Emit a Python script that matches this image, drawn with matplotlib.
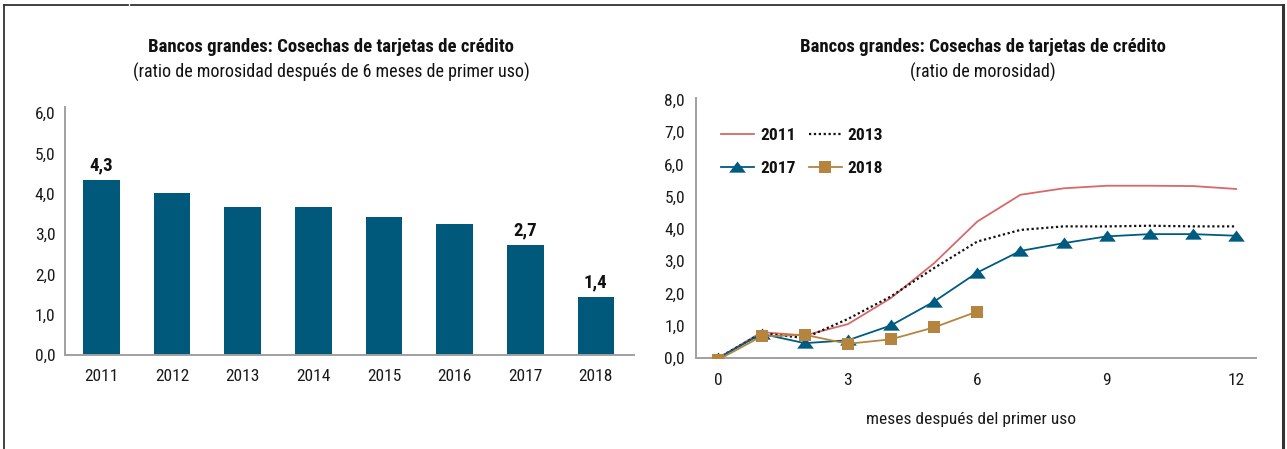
import matplotlib
matplotlib.use("Agg")
import matplotlib.pyplot as plt
from matplotlib.lines import Line2D
from matplotlib.path import Path
from matplotlib.ticker import FuncFormatter
from matplotlib import font_manager as fm

# pick a condensed family if one is installed
_names = sorted({f.name for f in fm.fontManager.ttflist})
_cond = [n for n in _names if ("Narrow" in n or "Condensed" in n)]
_pref = [n for n in _cond if "Liberation" in n] + [n for n in _cond if "Roboto" in n] + _cond
if _pref:
    FAMILY = _pref[0]
    SCALE = 1.0
else:
    FAMILY = "Liberation Sans"
    SCALE = 0.88
plt.rcParams['font.family'] = [FAMILY, 'DejaVu Sans']

# ---- data: left bar chart ----
years = ["2011", "2012", "2013", "2014", "2015", "2016", "2017", "2018"]
ratio6m = [4.34, 4.02, 3.67, 3.67, 3.42, 3.25, 2.74, 1.44]
labeled_years = ["2011", "2017", "2018"]

# ---- data: right line chart ----
months = list(range(13))
v2011 = [0.0, 0.80, 0.70, 1.05, 1.86, 2.94, 4.23, 5.06, 5.26, 5.34, 5.34, 5.33, 5.24]
v2013 = [0.0, 0.77, 0.62, 1.21, 1.91, 2.79, 3.61, 3.97, 4.08, 4.08, 4.10, 4.08, 4.08]
v2017 = [0.0, 0.75, 0.46, 0.55, 1.01, 1.75, 2.65, 3.32, 3.56, 3.77, 3.84, 3.84, 3.79]
months18 = list(range(7))
v2018 = [-0.05, 0.67, 0.72, 0.44, 0.58, 0.95, 1.44]
xticks_r = [0, 3, 6, 9, 12]

BAR = "#00587B"
RED = "#D8686A"
BLUE = "#005B80"
GOLD = "#B5843F"
SPINE = "#A0A0A0"
TXT = "#111111"

TICK_FS = 12.5 * SCALE
TITLE_FS = 13.5 * SCALE
SUB_FS = 13.0 * SCALE
VAL_FS = 13.5 * SCALE
LEG_FS = 12.5 * SCALE

W, H = 1287, 449
fig = plt.figure(figsize=(W / 100, H / 100), dpi=100)

def fx(px):
    return px / W

def fy(py):
    return 1 - py / H

comma = FuncFormatter(lambda v, p: f"{v:.1f}".replace(".", ","))

# frame lines
fig.add_artist(Line2D([fx(4), fx(128)], [fy(5), fy(5)], color="#333333", lw=1.3))
fig.add_artist(Line2D([fx(131), fx(1283)], [fy(5), fy(5)], color="#333333", lw=1.3))
fig.add_artist(Line2D([fx(4), fx(4)], [fy(5), 0], color="#333333", lw=1.3))
fig.add_artist(Line2D([fx(1283), fx(1283)], [fy(5), 0], color="#333333", lw=2.2))

# ---------- left chart ----------
ax1 = fig.add_axes([fx(65), fy(355), fx(634) - fx(65), fy(107) - fy(355)])
x = list(range(len(years)))
ax1.bar(x, ratio6m, width=0.52, color=BAR)
ax1.set_xlim(-0.517, 7.54)
ax1.set_ylim(0, 6.15)
ax1.set_yticks([0, 1, 2, 3, 4, 5, 6])
ax1.yaxis.set_major_formatter(comma)
ax1.set_xticks(x)
ax1.set_xticklabels(years)
for s in ["top", "right"]:
    ax1.spines[s].set_visible(False)
for s in ["left", "bottom"]:
    ax1.spines[s].set_color(SPINE)
    ax1.spines[s].set_linewidth(1.4)
ax1.tick_params(axis="both", length=0, labelsize=TICK_FS, colors="#1a1a1a")
ax1.tick_params(axis="y", pad=7)
ax1.tick_params(axis="x", pad=10)
for xi, yr, v in zip(x, years, ratio6m):
    if yr in labeled_years:
        ax1.annotate(f"{v:.1f}".replace(".", ","), (xi, v), xytext=(0, 4),
                     textcoords="offset points", ha="center", va="bottom",
                     fontsize=VAL_FS, fontweight="bold", color=TXT)

fig.text(fx(331), fy(47), "Bancos grandes: Cosechas de tarjetas de crédito",
         ha="center", va="center", fontsize=TITLE_FS, fontweight="bold", color=TXT)
fig.text(fx(331), fy(72), "(ratio de morosidad después de 6 meses de primer uso)",
         ha="center", va="center", fontsize=SUB_FS, color=TXT)

# ---------- right chart ----------
ax2 = fig.add_axes([fx(696), fy(358), fx(1256) - fx(696), fy(98) - fy(358)])
tri = Path([(-1, -0.62), (1, -0.62), (0, 0.72), (-1, -0.62)],
           [Path.MOVETO, Path.LINETO, Path.LINETO, Path.CLOSEPOLY])
l11, = ax2.plot(months, v2011, color=RED, lw=1.3, label="2011", zorder=3)
l13, = ax2.plot(months, v2013, color="#111111", lw=1.6, ls=(0, (1, 1.2)), label="2013", zorder=4)
l17, = ax2.plot(months, v2017, color=BLUE, lw=1.3, marker=tri, markersize=12,
                markeredgewidth=0, label="2017", zorder=5)
l18, = ax2.plot(months18, v2018, color=GOLD, lw=1.3, marker="s", markersize=8.5,
                markeredgewidth=0, label="2018", zorder=6)
ax2.set_xlim(-0.52, 12.46)
ax2.set_ylim(0, 8.06)
ax2.set_yticks([0, 1, 2, 3, 4, 5, 6, 7, 8])
ax2.yaxis.set_major_formatter(comma)
ax2.set_xticks(xticks_r)
for s in ["top", "right"]:
    ax2.spines[s].set_visible(False)
for s in ["left", "bottom"]:
    ax2.spines[s].set_color(SPINE)
    ax2.spines[s].set_linewidth(1.4)
ax2.tick_params(axis="both", length=0, labelsize=TICK_FS, colors="#1a1a1a")
ax2.tick_params(axis="y", pad=8)
ax2.tick_params(axis="x", pad=11)
ax2.set_xlabel("meses después del primer uso", fontsize=TICK_FS, color="#1a1a1a")
ax2.xaxis.set_label_coords(0.491, -0.235)
ax2.xaxis.label.set_va("center")

# column-major order so rows read 2011 2013 / 2017 2018
handles = [l11, l17, l13, l18]
leg = ax2.legend(handles, [h.get_label() for h in handles], ncol=2, loc="upper left",
                 bbox_to_anchor=((721 - 696) / 560, (358 - 128) / 260),
                 frameon=False, borderpad=0, borderaxespad=0,
                 handlelength=1.9, handletextpad=0.35, columnspacing=0.75,
                 labelspacing=1.15 * 11 / LEG_FS, prop={"weight": "bold", "size": LEG_FS})
for t in leg.get_texts():
    t.set_color(TXT)

fig.text(fx(983), fy(47), "Bancos grandes: Cosechas de tarjetas de crédito",
         ha="center", va="center", fontsize=TITLE_FS, fontweight="bold", color=TXT)
fig.text(fx(983), fy(72), "(ratio de morosidad)",
         ha="center", va="center", fontsize=SUB_FS, color=TXT)

fig.savefig("out.png", dpi=100)
